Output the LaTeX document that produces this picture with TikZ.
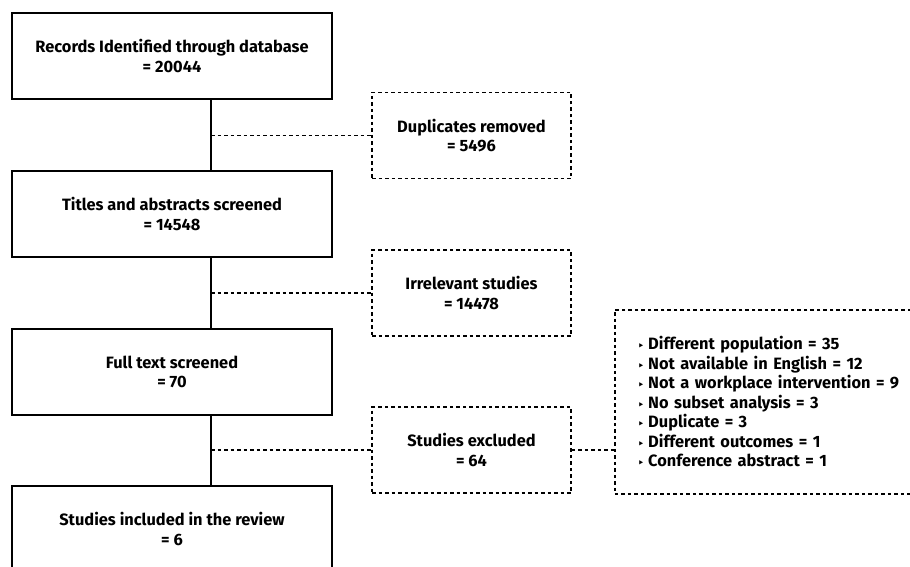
\documentclass[tikz,border=0pt]{standalone}
\usepackage{fontspec}
\setmainfont{Fira Sans}
\newfontfamily\dv{DejaVu Sans}
\newcommand{\tribul}{{\dv\fontsize{10}{19.5}\selectfont ‣}\hspace{4pt}}
\begin{document}
\begin{tikzpicture}[x=1pt,y=1pt,
  font=\fontsize{16.4}{19.5}\selectfont\bfseries,
  solidbox/.style={draw, line width=1.6pt, minimum width=320pt, minimum height=86pt, align=center, inner sep=0pt},
  dashbox/.style={draw, line width=1.6pt, dash pattern=on 3.5pt off 3pt, minimum width=199pt, minimum height=86pt, align=center, inner sep=0pt},
  link/.style={line width=1.6pt},
  dlink/.style={line width=1.6pt, dash pattern=on 3.5pt off 3pt}]
\useasboundingbox (0,0) rectangle (910,-567);
\clip (0,0) rectangle (910,-567);
\coordinate (spine) at (211,0);
\node[solidbox] (b1) at (172,-56) {Records Identified through database\\= 20044};
\node[solidbox] (b2) at (172,-214) {Titles and abstracts screened\\= 14548};
\node[solidbox] (b3) at (172,-372) {Full text screened\\= 70};
\node[solidbox] (b4) at (172,-529) {Studies included in the review\\= 6};
\node[dashbox] (d1) at (471.5,-135.5) {Duplicates removed\\= 5496};
\node[dashbox] (d2) at (471.5,-293) {Irrelevant studies\\= 14478};
\node[dashbox] (d3) at (471.5,-450) {Studies excluded\\= 64};
\node[draw, line width=1.6pt, dash pattern=on 3.5pt off 3pt, anchor=north west, minimum height=184pt, align=left, inner xsep=23pt, text width=280pt] (r) at (614,-309)
{\tribul Different population = 35\\
\tribul Not available in English = 12\\
\tribul Not a workplace intervention = 9\\
\tribul No subset analysis = 3\\
\tribul Duplicate = 3\\
\tribul Different outcomes = 1\\
\tribul Conference abstract = 1};
\draw[link] (b1.south -| spine) -- (b2.north -| spine);
\draw[link] (b2.south -| spine) -- (b3.north -| spine);
\draw[link] (b3.south -| spine) -- (b4.north -| spine);
\draw[dlink] (d1.west -| spine) -- (d1.west);
\draw[dlink] (d2.west -| spine) -- (d2.west);
\draw[dlink] (d3.west -| spine) -- (d3.west);
\draw[dlink] (d3.east) -- (d3.east -| r.west);
\end{tikzpicture}
\end{document}
